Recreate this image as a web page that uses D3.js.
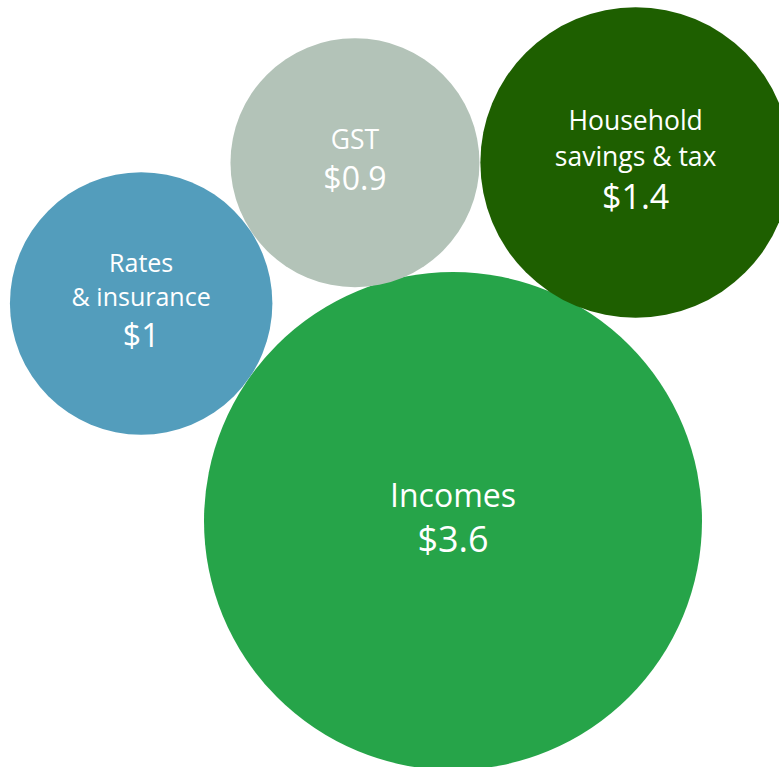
<!DOCTYPE html>
<html>
<head>
<meta charset="utf-8">
<script src="https://cdn.jsdelivr.net/npm/d3@7"></script>
<style>
  html, body { margin: 0; padding: 0; background: #fff; }
  svg { display: block; }
  text { font-family: "Open Sans", Lato, sans-serif; fill: #fff; }
</style>
</head>
<body>
<script>
// Spending breakdown, in dollars
const categories = ["Incomes", "Household savings & tax", "GST", "Rates & insurance"];
const labelLines = [["Incomes"], ["Household", "savings & tax"], ["GST"], ["Rates", "& insurance"]];
const values = [3.6, 1.4, 0.9, 1];
const valueLabels = ["$3.6", "$1.4", "$0.9", "$1"];

const colors = ["#26a449", "#1e5f00", "#b3c3b8", "#539dbc"];

const width = 779, height = 767;

// Bubble area proportional to value
const r = d3.scaleSqrt().domain([0, d3.max(values)]).range([0, 249]);

// The largest bubble sits at the anchor; the others rest against it
const anchor = { x: 453, y: 521 };
const angleDeg = [null, -63.0, -105.3, 214.9];
const gap = [0, -2, -2, 0];

const nodes = categories.map((c, i) => {
  const rad = r(values[i]);
  let x = anchor.x, y = anchor.y;
  if (i > 0) {
    const dist = r(values[0]) + rad + gap[i];
    const a = angleDeg[i] * Math.PI / 180;
    x = anchor.x + dist * Math.cos(a);
    y = anchor.y + dist * Math.sin(a);
  }
  return { name: c, lines: labelLines[i], value: values[i], valueLabel: valueLabels[i], r: rad, x, y, color: colors[i] };
});

const svg = d3.select("body").append("svg")
  .attr("width", width).attr("height", height);

const g = svg.selectAll("g.bubble").data(nodes).join("g")
  .attr("class", "bubble")
  .attr("transform", d => `translate(${d.x},${d.y})`);

g.append("circle")
  .attr("r", d => d.r)
  .attr("fill", d => d.color);

const labelSize = d => d.r > 200 ? 32 : (d.r < 135 && d.lines.length > 1 ? 25 : 26.5);
const valueSize = d => d.r > 200 ? 36 : (d.r > 150 ? 34 : 32);

g.each(function(d) {
  const sel = d3.select(this);
  const ls = labelSize(d), vs = valueSize(d);
  const lineGap = ls * 1.36;
  const valueGap = vs * 1.27;
  // block from top of first label caps to value baseline
  const capTop = ls * 0.72;
  const blockH = capTop + (d.lines.length - 1) * lineGap + valueGap;
  const top = -3 - blockH / 2;
  const firstBase = top + capTop;
  d.lines.forEach((line, i) => {
    sel.append("text")
      .attr("text-anchor", "middle")
      .attr("y", firstBase + i * lineGap)
      .style("font-size", ls + "px")
      .text(line);
  });
  sel.append("text")
    .attr("text-anchor", "middle")
    .attr("y", firstBase + (d.lines.length - 1) * lineGap + valueGap)
    .style("font-size", vs + "px")
    .text(d.valueLabel);
});
</script>
</body>
</html>
